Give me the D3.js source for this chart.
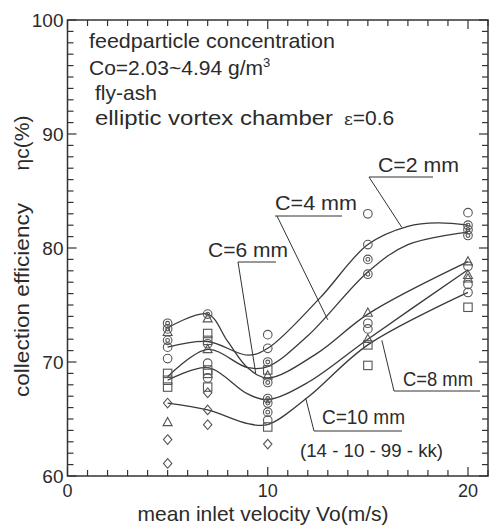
<!DOCTYPE html>
<html><head><meta charset="utf-8">
<script src="https://cdn.jsdelivr.net/npm/d3@7"></script>
<style>
html,body{margin:0;padding:0;background:#fff;}
svg text{font-family:"Liberation Sans",Arial,Helvetica,sans-serif;fill:#2b2b2b;}
</style></head>
<body><svg id="c" width="489" height="527"></svg>
<script>
// ---- data ----
const xTickLabels = [0, 10, 20];
const yTickLabels = [60, 70, 80, 90, 100];
const seriesNames = ["C=2 mm", "C=4 mm", "C=6 mm", "C=8 mm", "C=10 mm"];
// fitted curves: [velocity, efficiency]
const curveC2  = [[5,71.3],[7,71.8],[9,70.6],[10,71.2],[12.6,75.6],[15,80.3],[17,81.9],[18.5,82.2],[20,82.0]];
const curveC4  = [[5,68.7],[7,71.1],[9,69.5],[10,69.6],[12,72.3],[15,77.9],[17,80.3],[20,81.4]];
const curveC6  = [[5,73.0],[7,74.2],[8,71.8],[9,69.5],[10,68.6],[12.5,70.8],[15,74.2],[20,78.8]];
const curveC8  = [[5,68.4],[7,69.5],[9,67.2],[10,66.7],[12,68.2],[15,72.0],[20,78.1]];
const curveC10 = [[5,66.4],[7,65.8],[9,64.6],[10,64.5],[12,66.9],[15,71.5],[20,76.1]];
// measured points by marker shape
const circles = [[5,71.3],[5,70.3],[7,71.6],[7,69.9],[7,68.6],[10,72.4],[10,71.2],[10,64.9],[15,83.0],[15,80.3],[15,73.4],[15,72.9],[20,83.1],[20,78.4],[20,76.8],[20,76.1]];
const doubleCircles = [[5,73.4],[5,72.9],[5,71.9],[7,74.2],[10,70.0],[10,68.2],[10,66.8],[10,66.4],[10,65.6],[15,79.0],[15,77.7],[20,82.0],[20,81.6],[20,81.1]];
const triangles = [[5,72.6],[5,64.7],[7,73.8],[7,71.1],[10,68.8],[15,74.3],[15,72.0],[20,78.8],[20,77.6],[20,77.3]];
const squares = [[5,69.0],[5,68.4],[5,67.8],[7,72.5],[7,71.9],[7,69.3],[7,69.0],[7,67.8],[10,69.3],[10,64.3],[15,71.5],[15,69.7],[20,74.8]];
const diamonds = [[5,66.4],[5,63.2],[5,61.1],[7,67.3],[7,65.8],[7,64.5],[10,62.8]];

// ---- layout ----
const L = 67.5, R = 488, T = 20, B = 476;
const x = d3.scaleLinear().domain([0, 21]).range([L, R]);
const y = d3.scaleLinear().domain([60, 100]).range([B, T]);
const svg = d3.select("#c");
const ink = "#333";

// frame
svg.append("rect").attr("x", L).attr("y", T).attr("width", R - L).attr("height", B - T)
  .attr("fill", "none").attr("stroke", ink).attr("stroke-width", 1.5);

// ticks (inward on all four sides)
const xt = d3.range(0, 22, 1), yt = d3.range(60, 101, 1);
const tg = svg.append("g").attr("stroke", ink).attr("stroke-width", 1.2);
xt.forEach(v => {
  const len = v % 10 === 0 ? 9 : 6;
  tg.append("line").attr("x1", x(v)).attr("x2", x(v)).attr("y1", B).attr("y2", B - len);
  tg.append("line").attr("x1", x(v)).attr("x2", x(v)).attr("y1", T).attr("y2", T + len);
});
yt.forEach(v => {
  const len = v % 10 === 0 ? 9 : 6;
  tg.append("line").attr("x1", L).attr("x2", L + len).attr("y1", y(v)).attr("y2", y(v));
  tg.append("line").attr("x1", R).attr("x2", R - len).attr("y1", y(v)).attr("y2", y(v));
});

// tick labels
svg.selectAll(".yl").data(yTickLabels).enter().append("text")
  .attr("x", L - 4).attr("y", d => y(d) + 7).attr("text-anchor", "end")
  .attr("font-size", 19).text(d => d);
svg.selectAll(".xl").data(xTickLabels).enter().append("text")
  .attr("x", d => x(d)).attr("y", 497).attr("text-anchor", "middle")
  .attr("font-size", 18).text(d => d);

// axis titles
svg.append("text").attr("x", 263).attr("y", 521).attr("text-anchor", "middle")
  .attr("font-size", 21).text("mean inlet velocity Vo(m/s)");
svg.append("text").attr("transform", "translate(29,300) rotate(-90)").attr("text-anchor", "middle")
  .attr("font-size", 21).attr("textLength", 194).attr("lengthAdjust", "spacingAndGlyphs")
  .text("collection efficiency");
svg.append("text").attr("transform", "translate(29,143) rotate(-90)").attr("text-anchor", "middle")
  .attr("font-size", 21).text("ηc(%)");

// annotation block
const ann = svg.append("g").attr("font-size", 21);
ann.append("text").attr("x", 89).attr("y", 48).attr("textLength", 246).attr("lengthAdjust", "spacingAndGlyphs")
  .text("feedparticle concentration");
const co = ann.append("text").attr("x", 89).attr("y", 75);
co.append("tspan").text("Co=2.03~4.94 g/m");
co.append("tspan").attr("font-size", 13).attr("dy", -8).text("3");
ann.append("text").attr("x", 95).attr("y", 100).text("fly-ash");
const el = ann.append("text").attr("x", 95).attr("y", 125);
el.append("tspan").attr("textLength", 238).attr("lengthAdjust", "spacingAndGlyphs").text("elliptic vortex chamber");
el.append("tspan").attr("x", 344).attr("font-family", "'DejaVu Serif','Liberation Serif',serif").attr("font-size", 17).text("ε");
el.append("tspan").text("=0.6");

// curves
const line = d3.line().x(d => x(d[0])).y(d => y(d[1])).curve(d3.curveCatmullRom.alpha(0.5));
[curveC2, curveC4, curveC6, curveC8, curveC10].forEach(c => {
  svg.append("path").attr("d", line(c)).attr("fill", "none").attr("stroke", "#3a3a3a").attr("stroke-width", 1.3);
});

// markers
const mg = svg.append("g").attr("fill", "none").attr("stroke", "#555").attr("stroke-width", 1.1);
circles.forEach(d => mg.append("circle").attr("cx", x(d[0])).attr("cy", y(d[1])).attr("r", 4.3));
doubleCircles.forEach(d => {
  mg.append("circle").attr("cx", x(d[0])).attr("cy", y(d[1])).attr("r", 4.3);
  mg.append("circle").attr("cx", x(d[0])).attr("cy", y(d[1])).attr("r", 1.9);
});
triangles.forEach(d => mg.append("path").attr("transform", `translate(${x(d[0])},${y(d[1])})`)
  .attr("d", "M0,-5L4.5,3.2L-4.5,3.2Z"));
squares.forEach(d => mg.append("rect").attr("x", x(d[0]) - 4.2).attr("y", y(d[1]) - 4.2).attr("width", 8.4).attr("height", 8.4));
diamonds.forEach(d => mg.append("path").attr("transform", `translate(${x(d[0])},${y(d[1])})`)
  .attr("d", "M0,-4.8L4.2,0L0,4.8L-4.2,0Z"));

// series labels with leaders (leader end on curve given in data coordinates)
const labels = [
  {name: seriesNames[0], tx: 378, ty: 172, len: 81, ul: [369, 433, 177], tip: [16.7, 81.8], corner: [369, 177]},
  {name: seriesNames[1], tx: 275, ty: 210, len: 82, ul: [275, 342, 216], tip: [13.0, 73.7], corner: [277, 216]},
  {name: seriesNames[2], tx: 208, ty: 257, len: 80, ul: [238, 276, 262], tip: [9.4, 69.0], corner: [238, 262]},
  {name: seriesNames[3], tx: 403, ty: 386, len: 70, ul: [394, 480, 391], tip: [15.7, 71.9], corner: [394, 391]},
  {name: seriesNames[4], tx: 322, ty: 424, len: 83, ul: [314, 402, 431], tip: [11.9, 66.8], corner: [314, 431]}
];
const lg = svg.append("g");
labels.forEach(l => {
  lg.append("text").attr("x", l.tx).attr("y", l.ty).attr("font-size", 20)
    .attr("textLength", l.len).attr("lengthAdjust", "spacingAndGlyphs").text(l.name);
  lg.append("line").attr("x1", l.ul[0]).attr("x2", l.ul[1]).attr("y1", l.ul[2]).attr("y2", l.ul[2])
    .attr("stroke", ink).attr("stroke-width", 1);
  lg.append("line").attr("x1", l.corner[0]).attr("y1", l.corner[1])
    .attr("x2", x(l.tip[0])).attr("y2", y(l.tip[1])).attr("stroke", ink).attr("stroke-width", 1);
});
svg.append("text").attr("x", 300).attr("y", 457).attr("font-size", 19)
  .attr("textLength", 143).attr("lengthAdjust", "spacingAndGlyphs").text("(14 - 10 - 99 - kk)");
</script></body></html>
